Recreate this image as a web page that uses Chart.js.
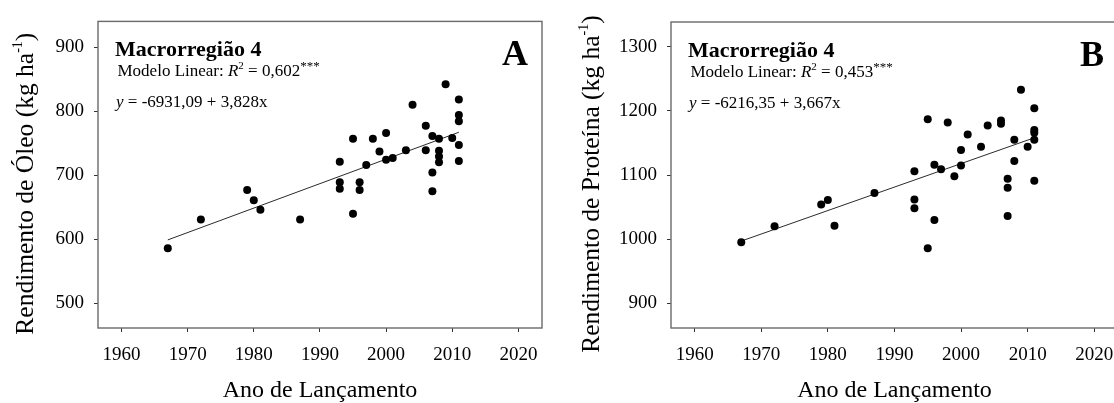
<!DOCTYPE html>
<html>
<head>
<meta charset="utf-8">
<script src="https://cdn.jsdelivr.net/npm/chart.js@4.4.1/dist/chart.umd.min.js"></script>
<style>
html,body{margin:0;padding:0;background:#fff;overflow:hidden;width:1114px;height:403px;}
#ca{position:absolute;left:0;top:0;}
#cb{position:absolute;left:557px;top:0;}
</style>
</head>
<body>
<canvas id="ca" width="557" height="403"></canvas>
<canvas id="cb" width="576" height="403"></canvas>
<script>
// ---- data ----
const yearsA = [1967,1972,1979,1980,1981,1987,1993,1993,1993,1995,1995,1996,1996,1997,1998,1999,2000,2000,2001,2003,2004,2006,2006,2007,2007,2007,2008,2008,2008,2008,2009,2010,2011,2011,2011,2011,2011];
const oilYield = [586,631,677,661,646,631,721,689,679,757,640,689,677,716,757,737,766,724,727,739,810,777,739,761,704,675,757,738,729,720,842,758,818,794,784,747,722];

const yearsB = [1967,1972,1979,1980,1981,1987,1993,1993,1993,1995,1995,1996,1996,1997,1998,1999,2000,2000,2001,2003,2004,2006,2006,2007,2007,2007,2008,2008,2009,2010,2011,2011,2011,2011,2011];
const proteinYield = [995,1020,1054,1061,1021,1072,1106,1062,1048,1187,986,1116,1030,1109,1182,1098,1139,1115,1163,1144,1177,1185,1180,1094,1080,1036,1155,1122,1233,1144,1204,1170,1166,1155,1091];

const trendYears = [1967, 2011];
const trendOil = [599, 767];
const trendProtein = [997, 1158];

const yearTicks = [1960,1970,1980,1990,2000,2010,2020];
const oilTicks = [500,600,700,800,900];
const proteinTicks = [900,1000,1100,1200,1300];

const xTitle = 'Ano de Lançamento';
const yTitleA = 'Rendimento de Óleo (kg ha';
const yTitleB = 'Rendimento de Proteína (kg ha';
const regionLabel = 'Macrorregião 4';
const r2A = '0,602', r2B = '0,453';
const eqA = ' = -6931,09 + 3,828x', eqB = ' = -6216,35 + 3,667x';

// ---- drawing ----
const FONT = '"Liberation Serif", "Times New Roman", serif';

function pts(xs, ys){ return xs.map((x,i)=>({x:x, y:ys[i]})); }

function drawYTitle(ctx, cx, cy, main){
  ctx.save();
  ctx.fillStyle = '#000';
  ctx.textBaseline = 'middle';
  ctx.textAlign = 'left';
  ctx.font = '25.5px ' + FONT;
  const w1 = ctx.measureText(main).width;
  const w3 = ctx.measureText(')').width;
  ctx.font = '14px ' + FONT;
  const w2 = ctx.measureText('-1').width;
  const total = w1 + w2 + w3;
  ctx.translate(cx, cy);
  ctx.rotate(-Math.PI/2);
  let x = -total/2;
  ctx.font = '25.5px ' + FONT; ctx.fillText(main, x, 0); x += w1;
  ctx.font = '14px ' + FONT; ctx.fillText('-1', x, -8); x += w2;
  ctx.font = '25.5px ' + FONT; ctx.fillText(')', x, 0);
  ctx.restore();
}

function makeChart(id, cfg){
  const annot = {
    id: 'annot',
    afterDraw(chart){
      const ctx = chart.ctx, a = chart.chartArea;
      ctx.save();
      // frame
      ctx.strokeStyle = '#6a6a6a';
      ctx.lineWidth = 1.4;
      ctx.strokeRect(a.left, a.top, a.right - a.left, a.bottom - a.top);
      ctx.fillStyle = '#000';
      ctx.textBaseline = 'alphabetic';
      ctx.textAlign = 'left';
      // region label
      ctx.font = 'bold 22px ' + FONT;
      ctx.fillText(regionLabel, a.left + 17, a.top + 35);
      // model line
      let x = a.left + 19.5, y = a.top + 55;
      ctx.font = '17px ' + FONT;
      let s = 'Modelo Linear: ';
      ctx.fillText(s, x, y); x += ctx.measureText(s).width;
      ctx.font = 'italic 17px ' + FONT;
      ctx.fillText('R', x, y); x += ctx.measureText('R').width;
      ctx.font = '11px ' + FONT;
      ctx.fillText('2', x, y - 7); x += ctx.measureText('2').width;
      ctx.font = '17px ' + FONT;
      s = ' = ' + cfg.r2;
      ctx.fillText(s, x, y); x += ctx.measureText(s).width;
      ctx.font = '13px ' + FONT;
      ctx.fillText('***', x, y - 6);
      // equation line
      x = a.left + 18; y = a.top + 86;
      ctx.font = 'italic 17px ' + FONT;
      ctx.fillText('y', x, y); x += ctx.measureText('y').width;
      ctx.font = '17px ' + FONT;
      ctx.fillText(cfg.eq, x, y);
      // panel letter
      ctx.font = 'bold 36px ' + FONT;
      ctx.textAlign = 'right';
      ctx.fillText(cfg.letter, a.right - 14, a.top + 43.5);
      ctx.restore();
      // y axis title
      drawYTitle(ctx, cfg.yTitleX, (a.top + a.bottom)/2 + 9, cfg.yTitle);
    }
  };
  return new Chart(document.getElementById(id), {
    data: {
      datasets: [
        { type: 'line', data: pts(trendYears, cfg.trend), borderColor: '#2a2a2a', borderWidth: 1,
          pointRadius: 0, fill: false, order: 2 },
        { type: 'scatter', data: pts(cfg.xs, cfg.ys), backgroundColor: '#000', borderColor: '#000',
          pointRadius: 4, borderWidth: 0, order: 1 }
      ]
    },
    options: {
      responsive: false,
      animation: false,
      devicePixelRatio: 1,
      layout: { padding: { left: 0, top: cfg.top, right: cfg.right, bottom: 0 } },
      plugins: { legend: { display: false }, tooltip: { enabled: false } },
      scales: {
        x: {
          type: 'linear', min: 1956.45, max: 2023.57,
          afterBuildTicks: s => { s.ticks = yearTicks.map(v => ({ value: v })); },
          afterFit: s => { s.height = 403 - 328; },
          grid: { display: true, drawOnChartArea: false, drawTicks: true, tickLength: 4, color: '#333', lineWidth: 1 },
          border: { display: false },
          ticks: { callback: v => String(v), font: { family: FONT, size: 19 }, color: '#000', padding: 12, maxRotation: 0 },
          title: { display: true, text: xTitle, font: { family: FONT, size: 24, lineHeight: 1.0 }, color: '#000', padding: { top: 0, bottom: 0 } }
        },
        y: {
          type: 'linear', min: cfg.ymin, max: cfg.ymax,
          afterBuildTicks: s => { s.ticks = cfg.yticks.map(v => ({ value: v })); },
          afterFit: s => { s.width = cfg.yWidth; },
          grid: { display: true, drawOnChartArea: false, drawTicks: true, tickLength: 4, color: '#333', lineWidth: 1 },
          border: { display: false },
          ticks: { callback: v => String(v), font: { family: FONT, size: 19 }, color: '#000', padding: 10 }
        }
      }
    },
    plugins: [annot]
  });
}

makeChart('ca', {
  xs: yearsA, ys: oilYield, trend: trendOil, yticks: oilTicks,
  ymin: 461.5, ymax: 940, top: 21, right: 15, yWidth: 98,
  r2: r2A, eq: eqA, letter: 'A', yTitle: yTitleA, yTitleX: 26.5
});
makeChart('cb', {
  xs: yearsB, ys: proteinYield, trend: trendProtein, yticks: proteinTicks,
  ymin: 861.5, ymax: 1338.5, top: 22, right: 15, yWidth: 114,
  r2: r2B, eq: eqB, letter: 'B', yTitle: yTitleB, yTitleX: 35
});
</script>
</body>
</html>
